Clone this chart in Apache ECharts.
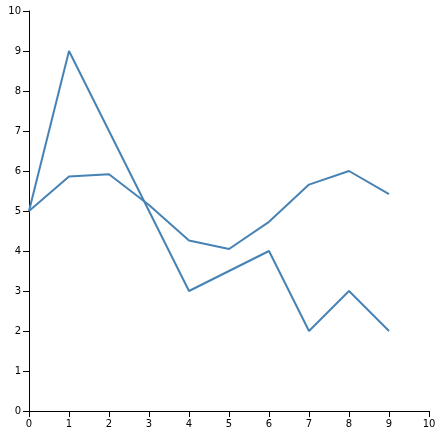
<!DOCTYPE html>
<html><head><meta charset="utf-8">
<script src="https://cdn.jsdelivr.net/npm/echarts@6/dist/echarts.min.js"></script>
<style>html,body{margin:0;padding:0;background:#fff}#c{width:445px;height:443px}</style>
</head><body><div id="c"></div>
<script>
const xs = [0,1,2,3,4,5,6,7,8,9];
const seriesA = [5,9,7,5,3,3.5,4,2,3,2];
const seriesB = [5,5.86,5.92,5.15,4.26,4.05,4.73,5.66,6.0,5.42];
const chart = echarts.init(document.getElementById('c'));
const axisCommon = {
  type:'value', min:0, max:10, interval:1,
  axisLine:{show:true,lineStyle:{color:'#000',width:1}},
  axisTick:{show:true,length:6,lineStyle:{color:'#000'}},
  axisLabel:{color:'#000',fontSize:10,fontFamily:'DejaVu Sans'},
  splitLine:{show:false}
};
chart.setOption({
  animation:false,
  grid:{left:29,right:16,top:11,bottom:32,containLabel:false},
  xAxis:Object.assign({},axisCommon,{axisLabel:Object.assign({},axisCommon.axisLabel,{margin:8})}),
  yAxis:Object.assign({},axisCommon,{axisLabel:Object.assign({},axisCommon.axisLabel,{margin:8})}),
  series:[seriesA,seriesB].map(s=>({
    type:'line', data:xs.map((x,i)=>[x,s[i]]), symbol:'none',
    lineStyle:{color:'#4682b4',width:2}
  }))
});
</script></body></html>
